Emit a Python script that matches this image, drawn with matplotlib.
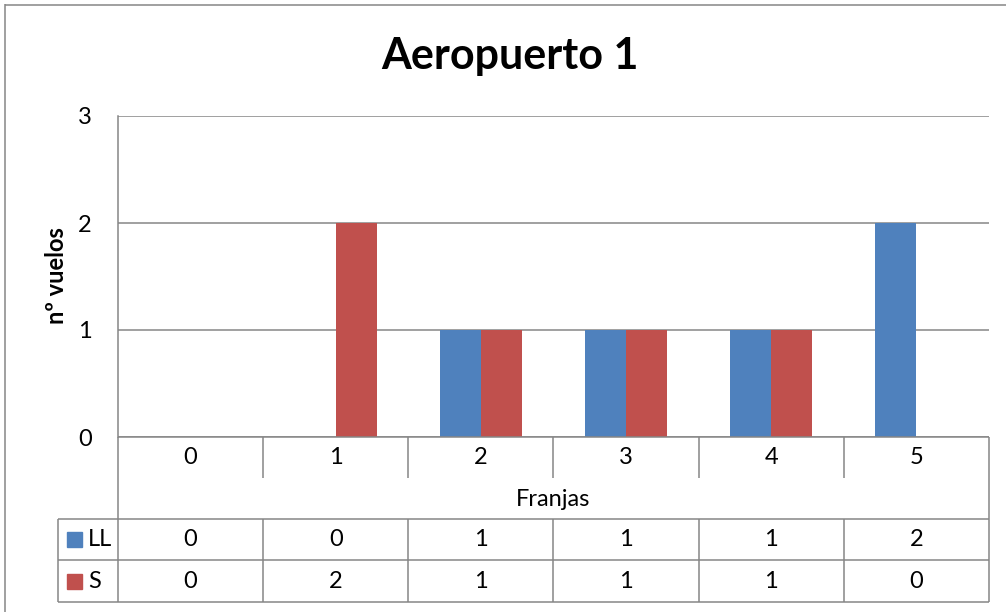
import matplotlib
matplotlib.use("Agg")
import matplotlib.pyplot as plt
from matplotlib.patches import Rectangle

# Data
franjas = ["0", "1", "2", "3", "4", "5"]
llegadas = [0, 0, 1, 1, 1, 2]
salidas = [0, 2, 1, 1, 1, 0]
series_names = ["LL", "S"]
y_ticks = [0, 1, 2, 3]

title = "Aeropuerto 1"
x_title = "Franjas"
y_title = "nº vuelos"

BLUE = "#4f81bd"
RED = "#c0504d"
GRID = "#868686"
FONT = "Lato"
FS = 17

W, H = 1006, 612
fig = plt.figure(figsize=(W / 100, H / 100), dpi=100)
fig.patch.set_facecolor("white")

def fx(px):
    return px / W

def fy(py):
    return 1 - py / H

# plot area (pixel layout)
L, R, T, B = 118, 989, 116, 437
ax = fig.add_axes([fx(L), fy(B), fx(R) - fx(L), fy(T) - fy(B)])
n = len(franjas)
ax.set_xlim(-0.5, n - 0.5)
ax.set_ylim(0, 3)
bw = 0.282
xs = list(range(n))
ax.bar([x - bw / 2 for x in xs], llegadas, width=bw, color=BLUE, zorder=3)
ax.bar([x + bw / 2 for x in xs], salidas, width=bw, color=RED, zorder=3)
ax.set_yticks(y_ticks)
ax.set_yticklabels([str(t) for t in y_ticks], fontsize=FS, family=FONT)
ax.tick_params(axis="y", length=0, pad=19)
ax.set_xticks([])
ax.grid(axis="y", color=GRID, linewidth=1.1, zorder=0)
for s in ["top", "right", "bottom"]:
    ax.spines[s].set_visible(False)
ax.spines["left"].set_color(GRID)
ax.spines["left"].set_linewidth(1.1)

# overlay in pixel coordinates for frame and data table
ov = fig.add_axes([0, 0, 1, 1], zorder=5)
ov.set_xlim(0, W)
ov.set_ylim(H, 0)
ov.axis("off")
ov.patch.set_alpha(0)

lw = 1.1
def hline(y, x0, x1):
    ov.plot([x0, x1], [y, y], color=GRID, lw=lw, solid_capstyle="butt")

def vline(x, y0, y1):
    ov.plot([x, x], [y0, y1], color=GRID, lw=lw, solid_capstyle="butt")

# outer chart frame
hline(4.5, 5, W + 5)
vline(5.5, 4, H + 5)

# titles
ov.text(510, 56, title, fontsize=31, fontweight="bold", family=FONT,
        ha="center", va="center")
ov.text(57, 276, y_title, fontsize=FS, fontweight="bold", family=FONT,
        rotation=90, ha="center", va="center")

col_w = (R - L) / n
edges = [L + i * col_w for i in range(n + 1)]
centers = [L + (i + 0.5) * col_w for i in range(n)]

# category header row
hline(B, L, R)
vline(L, B, 602)
vline(R, B, 602)
for e in edges[1:-1]:
    vline(e, B, 478)
    vline(e, 519, 602)
for c, lab in zip(centers, franjas):
    ov.text(c, 458, lab, fontsize=FS, family=FONT, ha="center", va="center")
ov.text((L + R) / 2, 499, x_title, fontsize=FS, family=FONT,
        ha="center", va="center")

# data table rows
rows_y = [519, 560, 602]
for y in rows_y:
    hline(y, 58, R)
vline(58, 519, 602)
row_colors = [BLUE, RED]
row_vals = [llegadas, salidas]
for i, (name, col, vals) in enumerate(zip(series_names, row_colors, row_vals)):
    yc = (rows_y[i] + rows_y[i + 1]) / 2
    ov.add_patch(Rectangle((67, yc - 7.5), 15, 15, color=col))
    ov.text(88, yc, name, fontsize=FS, family=FONT, ha="left", va="center")
    for c, v in zip(centers, vals):
        ov.text(c, yc, str(v), fontsize=FS, family=FONT, ha="center", va="center")

fig.savefig("out.png", dpi=100)
